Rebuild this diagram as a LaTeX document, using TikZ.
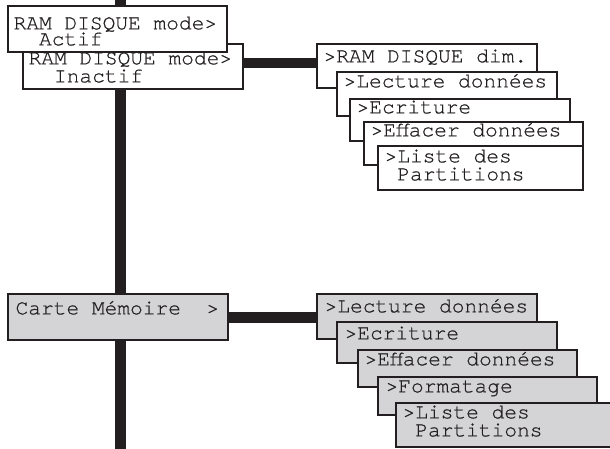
\documentclass[tikz,border=0pt]{standalone}
\usepackage{fontspec}
\newfontfamily\mono[FakeBold=0.6]{TeX Gyre Cursor}
\usetikzlibrary{fit}
\definecolor{barc}{RGB}{35,31,32}
\definecolor{linec}{RGB}{35,31,32}
\definecolor{boxgray}{RGB}{212,212,214}
\begin{document}
\begin{tikzpicture}[x=1pt,y=-1pt,
  wbox/.style={draw=linec, line width=1.2pt, fill=white, inner sep=0pt, rectangle},
  gbox/.style={wbox, fill=boxgray},
  txt/.style={inner sep=0pt, anchor=base west, text height=12pt, text depth=3pt,
    font=\mono\fontsize{21.2}{20}\selectfont, text=linec},
  bar/.style={draw=barc, line width=11pt}]
\useasboundingbox (0,0) rectangle (610,449);
% vertical trunk
\coordinate (vtop) at (120.5,0);
\coordinate (vbot) at (120.5,449);
\draw[bar] (vtop) -- (vbot);

% top-left boxes
\node[wbox, fit={(23,44) (243,89)}] (T2) {};
\node[txt] at ([shift={(6,21)}]T2.north west) {RAM DISQUE mode>};
\node[txt] at ([shift={(6,39)}]T2.north west) {\phantom{AA}Inactif};
\node[wbox, fit={(8,6) (227,52)}] (T1) {};
\node[txt] at ([shift={(6,24)}]T1.north west) {RAM DISQUE mode>};
\node[txt] at ([shift={(6,40)}]T1.north west) {\phantom{AA}Actif};

% top-right cascade
\node[wbox, fit={(317,44) (537,88)}] (RA) {};
\node[txt] at ([shift={(7,19)}]RA.north west) {>RAM DISQUE dim.};
\node[wbox, fit={(337,72) (557,116)}] (RB) {};
\node[txt] at ([shift={(7,16)}]RB.north west) {>Lecture données};
\node[wbox, fit={(350,99) (570,141)}] (RC) {};
\node[txt] at ([shift={(7,15)}]RC.north west) {>Ecriture};
\node[wbox, fit={(364,122) (583,165)}] (RD) {};
\node[txt] at ([shift={(7,15)}]RD.north west) {>Effacer données};
\node[wbox, fit={(378,146) (583,190)}] (RE) {};
\node[txt] at ([shift={(7,17)}]RE.north west) {>Liste des};
\node[txt] at ([shift={(7,35)}]RE.north west) {\phantom{A}Partitions};

\coordinate (c1) at ([yshift=3.5pt]T2.east);
\draw[bar, line width=10pt] (c1) -- (c1 -| RA.west);

% bottom-left box
\node[gbox, fit={(8,294) (228,340)}] (CM) {};
\node[txt] at ([shift={(8,21)}]CM.north west) {Carte Mémoire\phantom{AA}>};

% bottom-right cascade
\node[gbox, fit={(317,294) (537,339)}] (GA) {};
\node[txt] at ([shift={(8,19)}]GA.north west) {>Lecture données};
\node[gbox, fit={(337,322) (557,363)}] (GB) {};
\node[txt] at ([shift={(8,18)}]GB.north west) {>Ecriture};
\node[gbox, fit={(358,350) (577,387)}] (GC) {};
\node[txt] at ([shift={(7,16)}]GC.north west) {>Effacer données};
\node[gbox, fit={(378,377) (597,415)}] (GD) {};
\node[txt] at ([shift={(8,16)}]GD.north west) {>Formatage};
\node[gbox, fit={(396,403) (616,447)}] (GE) {};
\node[txt] at ([shift={(7,16)}]GE.north west) {>Liste des};
\node[txt] at ([shift={(7,34)}]GE.north west) {\phantom{A}Partitions};

\draw[bar] (CM.east) -- (CM.east -| GA.west);
\end{tikzpicture}
\end{document}
